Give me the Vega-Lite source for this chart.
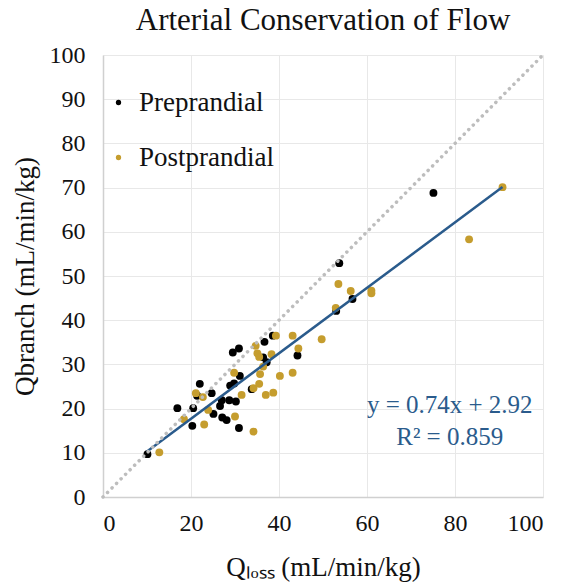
{
  "$schema": "https://vega.github.io/schema/vega-lite/v6.json",
  "width": 440,
  "height": 442,
  "autosize": {"type": "none"},
  "padding": {"left": 103, "top": 55, "right": 20, "bottom": 90},
  "background": "white",
  "config": {
    "view": {"stroke": null},
    "font": "Liberation Serif",
    "axis": {
      "grid": true,
      "gridColor": "#e8e8e8",
      "gridWidth": 1,
      "domainColor": "#d0d0d0",
      "domainWidth": 1.5,
      "ticks": false,
      "labelFont": "Liberation Serif",
      "labelFontSize": 24,
      "labelColor": "#111111",
      "titleFont": "Liberation Serif",
      "titleFontSize": 27,
      "titleFontWeight": "normal",
      "titleColor": "#111111"
    }
  },
  "title": {
    "text": "Arterial Conservation of Flow",
    "font": "Liberation Serif",
    "fontSize": 31,
    "fontWeight": "normal",
    "color": "#111111",
    "anchor": "middle",
    "offset": 6
  },
  "datasets": {
    "points": [
      {"group": "Preprandial", "qloss": 10.1, "qbranch": 9.7},
      {"group": "Preprandial", "qloss": 16.9, "qbranch": 20.1},
      {"group": "Preprandial", "qloss": 20.3, "qbranch": 16.1},
      {"group": "Preprandial", "qloss": 20.5, "qbranch": 20.1},
      {"group": "Preprandial", "qloss": 21.4, "qbranch": 22.9},
      {"group": "Preprandial", "qloss": 22.0, "qbranch": 25.6},
      {"group": "Preprandial", "qloss": 24.7, "qbranch": 23.5},
      {"group": "Preprandial", "qloss": 25.1, "qbranch": 18.8},
      {"group": "Preprandial", "qloss": 26.6, "qbranch": 20.6},
      {"group": "Preprandial", "qloss": 27.0, "qbranch": 21.9},
      {"group": "Preprandial", "qloss": 27.1, "qbranch": 18.0},
      {"group": "Preprandial", "qloss": 28.1, "qbranch": 17.4},
      {"group": "Preprandial", "qloss": 28.7, "qbranch": 21.9},
      {"group": "Preprandial", "qloss": 28.9, "qbranch": 25.2},
      {"group": "Preprandial", "qloss": 29.8, "qbranch": 25.7},
      {"group": "Preprandial", "qloss": 30.2, "qbranch": 21.6},
      {"group": "Preprandial", "qloss": 30.9, "qbranch": 15.6},
      {"group": "Preprandial", "qloss": 29.5, "qbranch": 32.7},
      {"group": "Preprandial", "qloss": 30.9, "qbranch": 33.6},
      {"group": "Preprandial", "qloss": 31.1, "qbranch": 27.4},
      {"group": "Preprandial", "qloss": 33.8, "qbranch": 24.4},
      {"group": "Preprandial", "qloss": 36.4, "qbranch": 31.6},
      {"group": "Preprandial", "qloss": 37.2, "qbranch": 30.5},
      {"group": "Preprandial", "qloss": 36.7, "qbranch": 35.1},
      {"group": "Preprandial", "qloss": 38.6, "qbranch": 36.5},
      {"group": "Preprandial", "qloss": 44.2, "qbranch": 32.0},
      {"group": "Preprandial", "qloss": 53.0, "qbranch": 42.1},
      {"group": "Preprandial", "qloss": 53.7, "qbranch": 52.9},
      {"group": "Preprandial", "qloss": 56.7, "qbranch": 44.8},
      {"group": "Preprandial", "qloss": 75.1, "qbranch": 68.8},
      {"group": "Postprandial", "qloss": 12.8, "qbranch": 10.1},
      {"group": "Postprandial", "qloss": 18.4, "qbranch": 17.6},
      {"group": "Postprandial", "qloss": 21.1, "qbranch": 23.5},
      {"group": "Postprandial", "qloss": 22.7, "qbranch": 22.6},
      {"group": "Postprandial", "qloss": 23.0, "qbranch": 16.4},
      {"group": "Postprandial", "qloss": 23.9, "qbranch": 19.7},
      {"group": "Postprandial", "qloss": 30.0, "qbranch": 18.2},
      {"group": "Postprandial", "qloss": 29.8, "qbranch": 28.1},
      {"group": "Postprandial", "qloss": 31.5, "qbranch": 23.1},
      {"group": "Postprandial", "qloss": 34.2, "qbranch": 24.6},
      {"group": "Postprandial", "qloss": 34.2, "qbranch": 14.8},
      {"group": "Postprandial", "qloss": 35.5, "qbranch": 25.6},
      {"group": "Postprandial", "qloss": 34.7, "qbranch": 34.2},
      {"group": "Postprandial", "qloss": 35.1, "qbranch": 32.5},
      {"group": "Postprandial", "qloss": 35.5, "qbranch": 31.7},
      {"group": "Postprandial", "qloss": 35.7, "qbranch": 27.8},
      {"group": "Postprandial", "qloss": 36.4, "qbranch": 29.5},
      {"group": "Postprandial", "qloss": 37.0, "qbranch": 23.1},
      {"group": "Postprandial", "qloss": 38.3, "qbranch": 32.3},
      {"group": "Postprandial", "qloss": 38.7, "qbranch": 23.6},
      {"group": "Postprandial", "qloss": 39.3, "qbranch": 36.5},
      {"group": "Postprandial", "qloss": 40.2, "qbranch": 27.4},
      {"group": "Postprandial", "qloss": 43.1, "qbranch": 28.1},
      {"group": "Postprandial", "qloss": 43.1, "qbranch": 36.5},
      {"group": "Postprandial", "qloss": 44.4, "qbranch": 33.6},
      {"group": "Postprandial", "qloss": 49.7, "qbranch": 35.7},
      {"group": "Postprandial", "qloss": 52.9, "qbranch": 42.8},
      {"group": "Postprandial", "qloss": 53.5, "qbranch": 48.2},
      {"group": "Postprandial", "qloss": 56.3, "qbranch": 46.6},
      {"group": "Postprandial", "qloss": 61.0, "qbranch": 46.7},
      {"group": "Postprandial", "qloss": 61.0, "qbranch": 46.1},
      {"group": "Postprandial", "qloss": 83.2, "qbranch": 58.3},
      {"group": "Postprandial", "qloss": 90.8, "qbranch": 70.1}
    ],
    "identity": [
      {"qloss": 0, "qbranch": 0},
      {"qloss": 100, "qbranch": 100}
    ],
    "trend": [
      {"qloss": 10.0, "qbranch": 10.32},
      {"qloss": 90.8, "qbranch": 70.11}
    ]
  },
  "layer": [
    {
      "data": {"name": "points"},
      "mark": {"type": "circle", "size": 62, "opacity": 1},
      "encoding": {
        "x": {
          "field": "qloss",
          "type": "quantitative",
          "scale": {"domain": [0, 100], "nice": false},
          "axis": {"values": [0, 20, 40, 60, 80, 100], "title": "Qₗₒₛₛ (mL/min/kg)", "labelPadding": 14, "titlePadding": 19}
        },
        "y": {
          "field": "qbranch",
          "type": "quantitative",
          "scale": {"domain": [0, 100], "nice": false},
          "axis": {"values": [0, 10, 20, 30, 40, 50, 60, 70, 80, 90, 100], "title": "Qbranch (mL/min/kg)", "labelPadding": 18, "titlePadding": 10}
        },
        "color": {
          "field": "group",
          "type": "nominal",
          "scale": {"domain": ["Preprandial", "Postprandial"], "range": ["#000000", "#c59d2e"]},
          "legend": {
            "title": null,
            "orient": "none",
            "legendX": 2,
            "legendY": 34,
            "symbolType": "circle",
            "symbolSize": 28,
            "symbolStrokeWidth": 0,
            "labelFont": "Liberation Serif",
            "labelFontSize": 27,
            "labelColor": "#111111",
            "labelOffset": 7,
            "rowPadding": 27
          }
        },
        "order": {"field": "group", "sort": "descending"}
      }
    },
    {
      "data": {"name": "trend"},
      "mark": {"type": "line", "color": "#2a5b8c", "strokeWidth": 2.5},
      "encoding": {
        "x": {"field": "qloss", "type": "quantitative"},
        "y": {"field": "qbranch", "type": "quantitative"}
      }
    },
    {
      "data": {"name": "identity"},
      "mark": {"type": "line", "color": "#bdbdbd", "strokeWidth": 3.5, "strokeCap": "round", "strokeDash": [0.1, 6.3]},
      "encoding": {
        "x": {"field": "qloss", "type": "quantitative"},
        "y": {"field": "qbranch", "type": "quantitative"}
      }
    },
    {
      "data": {"values": [{}]},
      "mark": {
        "type": "text",
        "text": ["y = 0.74x + 2.92", "R² = 0.859"],
        "font": "Liberation Serif",
        "fontSize": 25,
        "color": "#2a5b8c",
        "align": "center",
        "baseline": "middle",
        "lineHeight": 32
      },
      "encoding": {
        "x": {"datum": 78.8},
        "y": {"datum": 20.8}
      }
    }
  ]
}
